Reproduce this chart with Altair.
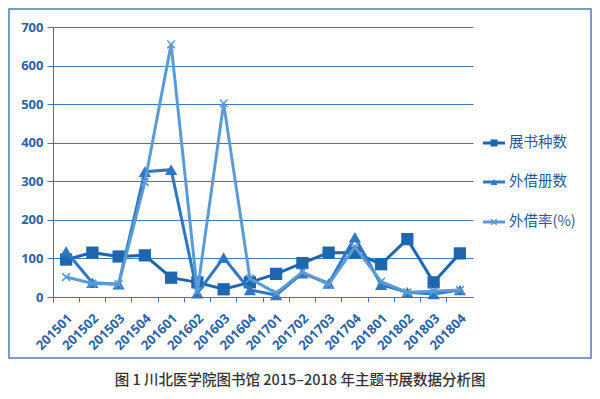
import altair as alt
import pandas as pd

periods = ["201501", "201502", "201503", "201504", "201601", "201602", "201603", "201604",
           "201701", "201702", "201703", "201704", "201801", "201802", "201803", "201804"]
zhanshu = [97, 115, 105, 108, 50, 38, 20, 38, 60, 88, 115, 115, 85, 150, 38, 113]
jieyue = [118, 37, 33, 325, 330, 10, 102, 18, 5, 62, 35, 155, 32, 12, 8, 18]
jielv = [52, 35, 33, 298, 655, 15, 502, 48, 10, 65, 33, 130, 40, 12, 15, 18]
series = ["展书种数", "外借册数", "外借率(%)"]
colors = ["#1f66b0", "#2e77c2", "#5b9bd5"]
caption = "图 1  川北医学院图书馆 2015–2018 年主题书展数据分析图"

W, H = 420, 270
AX = "#3f76b8"
LBL = "#2a63a8"
XSHAPE = "M-1,-1L1,1M1,-1L-1,1"

frames = []
for name, vals in zip(series, [zhanshu, jieyue, jielv]):
    frames.append(pd.DataFrame({"期": periods, "值": vals, "系列": name}))
df = pd.concat(frames, ignore_index=True)

xenc = alt.X("期:N", sort=periods,
             scale=alt.Scale(type="band", paddingInner=0, paddingOuter=0),
             axis=alt.Axis(title=None, labelAngle=-45, labelAlign="right", labelBaseline="middle",
                           labelFontSize=13, labelFontWeight="bold", labelColor=LBL,
                           labelFont="Open Sans", domainColor=AX, tickColor=AX, tickSize=5,
                           bandPosition=0, labelOffset=4, labelPadding=14, grid=False))
yenc = alt.Y("值:Q", scale=alt.Scale(domain=[0, 700], nice=False),
             axis=alt.Axis(title=None, values=list(range(0, 701, 100)), grid=True, gridColor=AX,
                           gridWidth=1, domainColor=AX, tickColor=AX, tickSize=6,
                           labelFontSize=13, labelFontWeight="bold", labelColor=LBL,
                           labelFont="Open Sans", labelPadding=4))

base = alt.Chart(df).encode(x=xenc, y=yenc)
layers = []
marks = [
    dict(shape="square", size=150, filled=True),
    dict(shape="triangle-up", size=150, filled=True),
    dict(shape=XSHAPE, size=60, filled=False, strokeWidth=1.6),
]
for name, col, mk in zip(series, colors, marks):
    sub = base.transform_filter(alt.datum["系列"] == name)
    layers.append(sub.mark_line(color=col, strokeWidth=3))
    layers.append(sub.mark_point(color=col, opacity=1, **mk))

# legend
leg_y = [116, 155, 195]
leg = []
for name, col, mk, yy in zip(series, colors, marks, leg_y):
    leg.append(alt.Chart(pd.DataFrame({"t": [name]})).mark_rule(color=col, strokeWidth=3).encode(
        x=alt.value(430), x2=alt.value(452), y=alt.value(yy)))
    small = dict(mk)
    small["size"] = 50 if mk["filled"] else 30
    leg.append(alt.Chart(pd.DataFrame({"t": [name]})).mark_point(color=col, opacity=1, **small).encode(
        x=alt.value(441), y=alt.value(yy)))
    leg.append(alt.Chart(pd.DataFrame({"t": [name]})).mark_text(
        align="left", baseline="middle", fontSize=14.5, color="#1f5a9c",
        font="Noto Sans CJK SC").encode(x=alt.value(456), y=alt.value(yy), text="t:N"))

frame = alt.Chart(pd.DataFrame({"t": [0]})).mark_rect(fill=None, stroke="#4a7ebb", strokeWidth=1.5).encode(
    x=alt.value(-44), x2=alt.value(538), y=alt.value(-18), y2=alt.value(331))

cap = alt.Chart(pd.DataFrame({"t": [caption]})).mark_text(
    align="center", baseline="middle", fontSize=14.5, fontWeight=500, color="#333333",
    font="Noto Sans CJK SC").encode(x=alt.value(247), y=alt.value(354), text="t:N")

chart = alt.layer(frame, *layers, *leg, cap).properties(
    width=W, height=H,
    autosize=alt.AutoSizeParams(type="none"),
    padding={"left": 45, "top": 19, "right": 119, "bottom": 94},
).configure_view(stroke=None)

chart.save("out.html", embed_options={"renderer": "svg", "actions": False})
